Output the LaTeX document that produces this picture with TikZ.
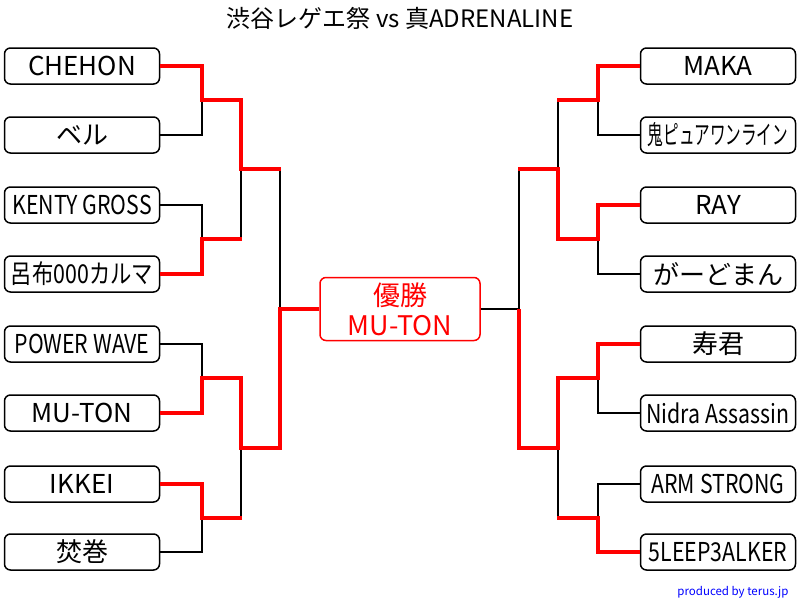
\documentclass[tikz,border=0pt]{standalone}
\usepackage{fontspec}
\setmainfont{Noto Sans CJK JP}
\begin{document}
\begin{tikzpicture}[x=1pt,y=-1pt,
  box/.style={draw=black,line width=1.5pt,rounded corners=6pt,minimum width=155pt,minimum height=36pt,inner sep=0pt,font=\fontsize{26}{28}\selectfont},
  win/.style={draw=red,line width=3.5pt},
  lose/.style={draw=black,line width=1.5pt}]
\useasboundingbox (0,0) rectangle (800,600);
\newcommand{\cn}[1]{\scalebox{0.82}[1]{#1}}
\node at (400,18) {\fontsize{24}{26}\selectfont 渋谷レゲエ祭 vs 真ADRENALINE};
\node[anchor=east,text=blue] at (792,592) {\fontsize{11.5}{12}\selectfont produced by terus.jp};
\node[box] (L1) at (82,66) {CHEHON};
\node[box] (L2) at (82,135) {ベル};
\node[box] (L3) at (82,205) {\cn{KENTY GROSS}};
\node[box] (L4) at (82,274) {\cn{呂布000カルマ}};
\node[box] (L5) at (82,344) {\cn{POWER WAVE}};
\node[box] (L6) at (82,413) {MU-TON};
\node[box] (L7) at (82,484) {IKKEI};
\node[box] (L8) at (82,552) {焚巻};
\node[box] (R1) at (718,66) {MAKA};
\node[box] (R2) at (718,135) {\scalebox{0.6}[1]{鬼ピュアワンライン}};
\node[box] (R3) at (718,205) {RAY};
\node[box] (R4) at (718,274) {がーどまん};
\node[box] (R5) at (718,344) {寿君};
\node[box] (R6) at (718,413) {\cn{Nidra Assassin}};
\node[box] (R7) at (718,484) {\cn{ARM STRONG}};
\node[box] (R8) at (718,552) {\cn{5LEEP3ALKER}};
\node[box,draw=red,text=red,minimum width=160pt,minimum height=63pt,align=center,font=\fontsize{27}{30}\selectfont] (C) at (400,309) {優勝\\MU-TON};
% left
\draw[lose] (L2.east) -- (202,135) -- (202,100);
\draw[lose] (L3.east) -- (202,205) -- (202,239);
\draw[lose] (241,239) -- (241,169);
\draw[lose] (280,169) -- (280,309);
\draw[lose] (L5.east) -- (202,344) -- (202,378);
\draw[lose] (L8.east) -- (202,552) -- (202,518);
\draw[lose] (241,518) -- (241,448);
\draw[win] (L1.east) -- (202,66) -- (202,100) -- (241,100) -- (241,169) -- (281,169);
\draw[win] (L4.east) -- (202,274) -- (202,239) -- (242,239);
\draw[win] (L6.east) -- (202,413) -- (202,378) -- (241,378) -- (241,448) -- (280,448) -- (280,309) -- (C.west);
\draw[win] (L7.east) -- (202,484) -- (202,518) -- (242,518);
% right
\draw[lose] (R2.west) -- (598,135) -- (598,100);
\draw[lose] (558,100) -- (558,169);
\draw[lose] (R4.west) -- (598,274) -- (598,239);
\draw[lose] (519,169) -- (519,309);
\draw[lose] (C.east) -- (519,309);
\draw[lose] (R6.west) -- (598,413) -- (598,378);
\draw[lose] (R7.west) -- (598,484) -- (598,518);
\draw[lose] (558,518) -- (558,448);
\draw[win] (R1.west) -- (598,66) -- (598,100) -- (557,100);
\draw[win] (R3.west) -- (598,205) -- (598,239) -- (558,239) -- (558,169) -- (518,169);
\draw[win] (R5.west) -- (598,344) -- (598,378) -- (558,378) -- (558,448) -- (519,448) -- (519,309);
\draw[win] (R8.west) -- (598,552) -- (598,518) -- (557,518);
\end{tikzpicture}
\end{document}
